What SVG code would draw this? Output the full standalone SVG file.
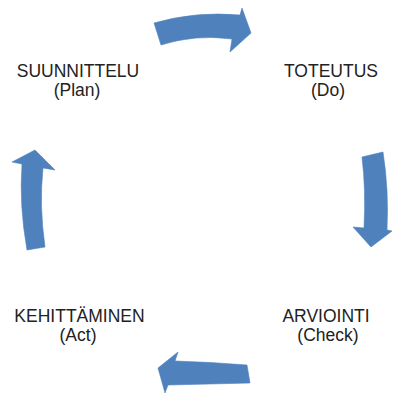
<svg xmlns="http://www.w3.org/2000/svg" width="395" height="396" viewBox="0 0 395 396">
  <style>
    .arrow { fill: #4F81BD; stroke: #4F81BD; stroke-width: 0.6; stroke-linejoin: round; }
    .label { font-family: "Liberation Sans", Arial, sans-serif; font-size: 17.5px; fill: #222; text-anchor: middle; }
  </style>
  <rect width="395" height="396" fill="#ffffff"/>
  <g id="connectors">
    <path id="arrow-plan-do" class="arrow" d="M154,23 Q195,11 240,15 L242,8 L251,33 L230,52 L232,39 Q195,34 161,45 Z"/>
    <path id="arrow-do-check" class="arrow" d="M362,157 L383,152 Q389,190 387,230 L392,231 L371,247 L353,227 L364,228 Q366,190 362,157 Z"/>
    <path id="arrow-check-act" class="arrow" d="M247,365 Q210,362 175,361 L178,352 L158,368 L165,393 L168,385 Q210,384 250,383 Z"/>
    <path id="arrow-act-plan" class="arrow" d="M27,250 Q19,205 22,164 L12,162 L35,150 L55,170 L43,168 Q39,205 45,247 Z"/>
  </g>
  <g id="node-plan">
    <text class="label" x="78" y="77">SUUNNITTELU</text>
    <text class="label" x="77" y="95.5">(Plan)</text>
  </g>
  <g id="node-do">
    <text class="label" x="331" y="77">TOTEUTUS</text>
    <text class="label" x="328" y="95.5">(Do)</text>
  </g>
  <g id="node-check">
    <text class="label" x="326" y="321.5">ARVIOINTI</text>
    <text class="label" x="328" y="340.5">(Check)</text>
  </g>
  <g id="node-act">
    <text class="label" x="79.5" y="321.5">KEHITTÄMINEN</text>
    <text class="label" x="78" y="340.5">(Act)</text>
  </g>
</svg>
